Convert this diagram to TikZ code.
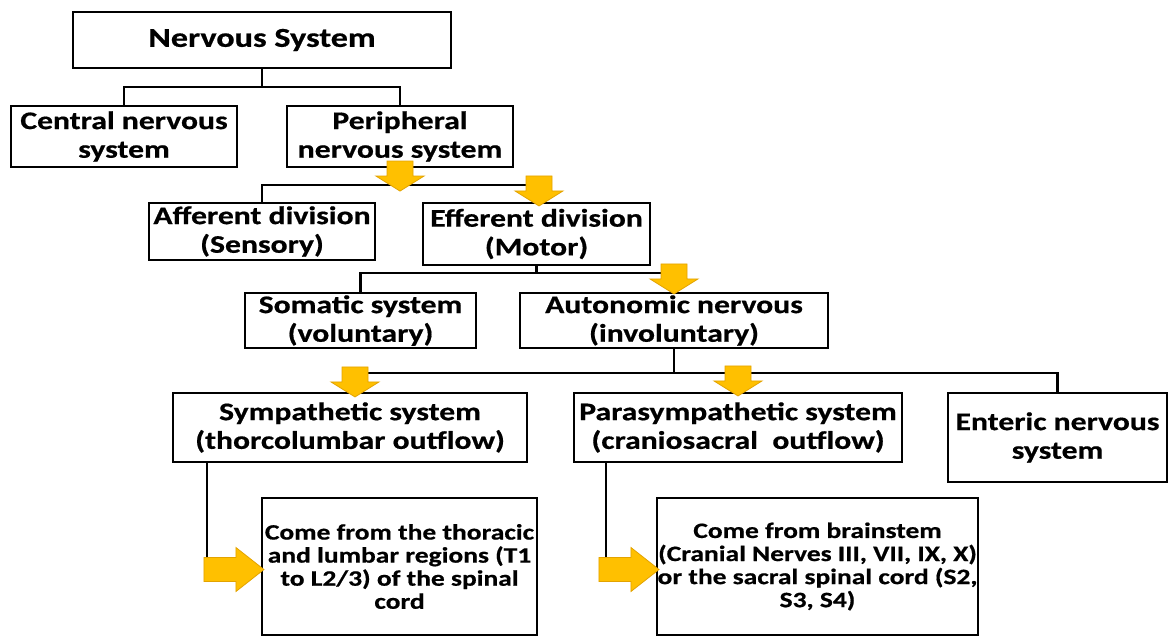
\documentclass[tikz,border=0pt]{standalone}
\usepackage{fontspec}
\setmainfont{Carlito}[FakeStretch=1.25, BoldFeatures={FakeBold=0.6}]
\usetikzlibrary{calc}
\definecolor{gold}{HTML}{FFC000}
\definecolor{goldedge}{HTML}{E3A300}
\tikzset{
  x=0.75pt, y=-0.75pt,
  bx/.style={draw=black, line width=1.6pt, inner sep=0pt, align=center,
    font=\bfseries\fontsize{19pt}{21.5pt}\selectfont},
  smallbx/.style={bx, font=\bfseries\fontsize{16.5pt}{17.3pt}\selectfont},
  conn/.style={draw=black, line width=2pt},
  downarrow/.pic={\path[fill=gold, draw=goldedge, line width=0.6pt]
    (0,0) -- (-24,-15) -- (-13,-15) -- (-13,-30) -- (13,-30) -- (13,-15) -- (24,-15) -- cycle;},
  rightarrow/.pic={\path[fill=gold, draw=goldedge, line width=0.6pt]
    (0,0) -- (-28,-22) -- (-28,-12) -- (-60,-12) -- (-60,12) -- (-28,12) -- (-28,22) -- cycle;}
}
\begin{document}
\begin{tikzpicture}
\fill[white] (0,0) rectangle (1169,637);
\useasboundingbox (0,0) rectangle (1169,637);

\node[bx, minimum width=283.5pt, minimum height=42pt,
  font=\bfseries\fontsize{20.5pt}{23pt}\selectfont] (ns) at (262,40) {Nervous System};
\node[bx, minimum width=169.5pt, minimum height=45.75pt] (cns) at (124,136.5) {Central nervous\\system};
\node[bx, minimum width=169.5pt, minimum height=45.75pt] (pns) at (400,136.5) {Peripheral\\nervous system};
\node[bx, minimum width=169.5pt, minimum height=42.75pt] (aff) at (262,231.5) {Afferent division\\(Sensory)};
\node[bx, minimum width=170.25pt, minimum height=46.5pt] (eff) at (536.5,234) {Efferent division\\(Motor)};
\node[bx, minimum width=173.25pt, minimum height=41.25pt] (som) at (360.5,320.5) {Somatic system\\(voluntary)};
\node[bx, minimum width=231pt, minimum height=41.25pt] (aut) at (674,320.5) {Autonomic nervous\\(involuntary)};
\node[bx, minimum width=265.5pt, minimum height=51.75pt] (sym) at (350,427.5) {Sympathetic system\\(thorcolumbar outflow)};
\node[bx, minimum width=246pt, minimum height=51.75pt] (par) at (738,427.5) {Parasympathetic system\\(craniosacral\ \ outflow)};
\node[bx, minimum width=164.25pt, minimum height=66.75pt] (ent) at (1057.5,437.5) {Enteric nervous\\system};
\node[smallbx, minimum width=206.25pt, minimum height=102.75pt] (sc) at (399.5,566.5)
  {Come from the thoracic\\and lumbar regions (T1\\to L2/3) of the spinal\\cord};
\node[smallbx, minimum width=240.75pt, minimum height=102.75pt] (pc) at (817.5,566.5)
  {Come from brainstem\\(Cranial Nerves III, VII, IX, X)\\or the sacral spinal cord (S2,\\S3, S4)};

% junction levels
\coordinate (j1) at (0,87);
\coordinate (j2) at (0,185);
\coordinate (j3) at (0,273);
\coordinate (j4) at (0,373);

% connectors
\draw[conn] (ns.south) -- (ns.south |- j1);
\draw[conn] (cns.north) -- (cns.north |- j1) -- (pns.north |- j1) -- (pns.north);

\draw[conn] (pns.south) -- (pns.south |- j2);
\draw[conn] (aff.north) -- (aff.north |- j2) -- (eff.north |- j2) -- (eff.north);

\draw[conn] (eff.south) -- (eff.south |- j3);
\draw[conn] (som.north) -- (som.north |- j3) -- (aut.north |- j3) -- (aut.north);

\draw[conn] (aut.south) -- (aut.south |- j4);
\draw[conn] (sym.north) -- (sym.north |- j4) -- (ent.north |- j4) -- (ent.north);

\path (sym.south west) ++(35,0) coordinate (s1);
\path (par.south west) ++(33,0) coordinate (p1);
\draw[conn] (s1) -- (s1 |- sc.west);
\draw[conn] (p1) -- (p1 |- pc.west);

% yellow arrows
\pic at ($(pns.south)+(0,23)$) {downarrow};
\pic at ($(eff.north)+(2.5,4)$) {downarrow};
\pic at ($(aut.north)+(0,2)$) {downarrow};
\pic at ($(sym.north)+(5,5)$) {downarrow};
\pic at ($(par.north)+(0,4)$) {downarrow};
\pic at ($(sc.west)+(3,3)$) {rightarrow};
\pic at ($(pc.west)+(3,3)$) {rightarrow};
\end{tikzpicture}
\end{document}
